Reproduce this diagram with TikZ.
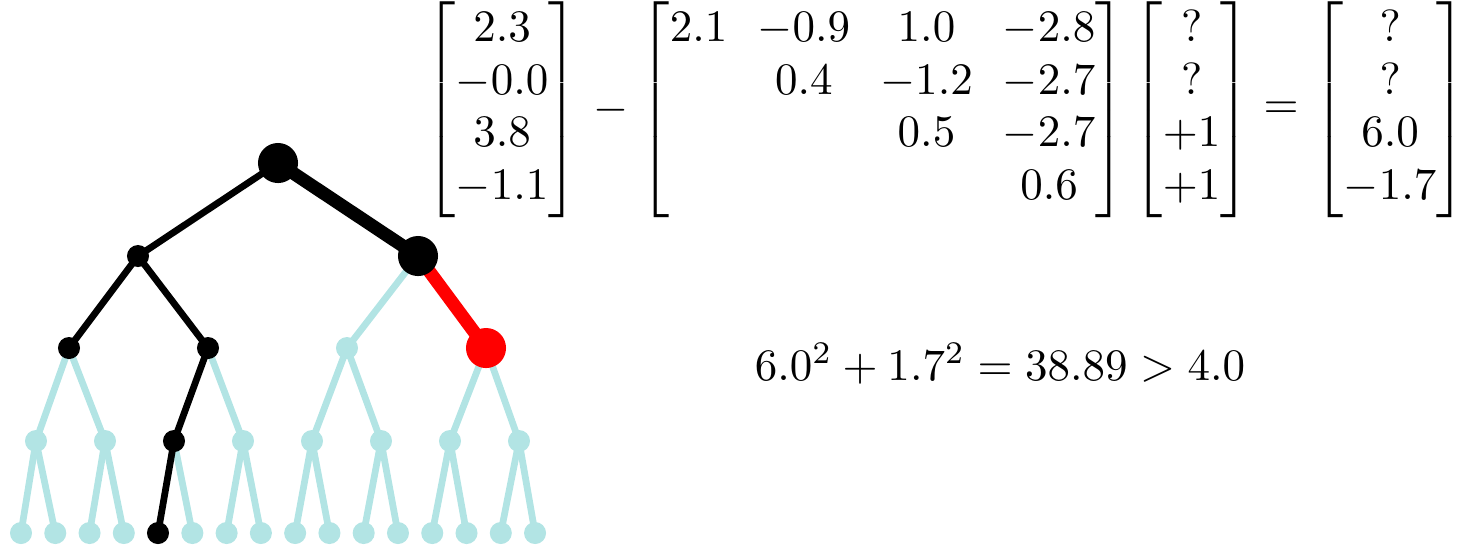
\documentclass[tikz,border=0pt]{standalone}
\usepackage{amsmath}
\usetikzlibrary{backgrounds}
\definecolor{TreeLight}{HTML}{B2E4E4}
\definecolor{TreeRed}{HTML}{FF0000}
\renewcommand{\arraystretch}{0.975}
\setlength{\arraycolsep}{3.35pt}

\begin{document}
\begin{tikzpicture}[
    x=0.2222pt, y=-0.2222pt,
    dot/.style={circle,inner sep=0pt,minimum size=4.9pt},
    lightdot/.style={dot,fill=TreeLight},
    pathdot/.style={dot,fill=black},
    bigdot/.style={circle,inner sep=0pt,minimum size=8.9pt,fill=black},
    reddot/.style={bigdot,fill=TreeRed},
    lightedge/.style={line width=1.5pt,draw=TreeLight},
    pathedge/.style={line width=1.5pt,draw=black},
    heavyedge/.style={line width=2.9pt,draw=black},
    rededge/.style={line width=2.9pt,draw=TreeRed},
    mat/.style={inner sep=0pt,anchor=west}
  ]
  \useasboundingbox (0,0) rectangle (1465,545);

  % tree
  \node[bigdot] (root) at (278,163) {};
  \node[pathdot] (a1) at (138,256) {};
  \node[bigdot] (a2) at (418,256) {};
  \node[pathdot] (b1) at (69,348) {};
  \node[pathdot] (b2) at (208,348) {};
  \node[lightdot] (b3) at (347,348) {};
  \node[reddot] (b4) at (486,348) {};
  \foreach \i in {1,2,4,5,6,7,8}
    \node[lightdot] (c\i) at ({36+69*(\i-1)},441) {};
  \node[pathdot] (c3) at (174,441) {};
  \foreach \i in {1,...,4,6,7,...,16}
    \node[lightdot] (d\i) at ({21+34.27*(\i-1)},533) {};
  \node[pathdot] (d5) at (158,533) {};

  \begin{scope}[on background layer]
    \foreach \u/\v in {a2/b3,b1/c1,b1/c2,b2/c4,b3/c5,b3/c6,b4/c7,b4/c8,
        c1/d1,c1/d2,c2/d3,c2/d4,c3/d6,c4/d7,c4/d8,c5/d9,c5/d10,
        c6/d11,c6/d12,c7/d13,c7/d14,c8/d15,c8/d16}
      \draw[lightedge] (\u.center) -- (\v.center);
    \foreach \u/\v in {root/a1,a1/b1,a1/b2,b2/c3,c3/d5}
      \draw[pathedge] (\u.center) -- (\v.center);
    \draw[heavyedge] (root.center) -- (a2.center);
    \draw[rededge] (a2.center) -- (b4.center);
  \end{scope}

  % back substitution
  \node[mat] (vecb) at (425,110) {$\begin{bmatrix}2.3\\-0.0\\3.8\\-1.1\end{bmatrix}$};
  \node (minus) at (611,110) {$-$};
  \node[mat] (matr) at (639,110) {$\begin{bmatrix}2.1&-0.9&1.0&-2.8\\&0.4&-1.2&-2.7\\&&0.5&-2.7\\&&&0.6\end{bmatrix}$};
  \node[mat] (vecx) at (1132,110) {$\begin{bmatrix}?\\?\\+1\\+1\end{bmatrix}$};
  \node (equals) at (1281,110) {$=$};
  \node[mat] (vecres) at (1313,110) {$\begin{bmatrix}?\\?\\6.0\\-1.7\end{bmatrix}$};

  \node[anchor=base] (norm) at (1000,380) {$6.0^2+1.7^2=38.89>4.0$};
\end{tikzpicture}
\end{document}
